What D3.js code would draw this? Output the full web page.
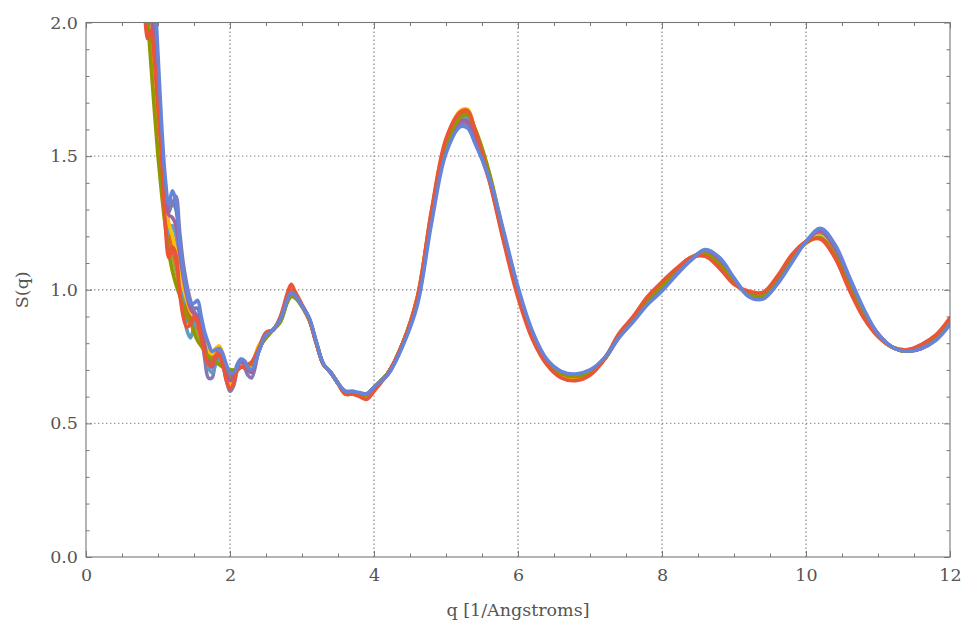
<!DOCTYPE html>
<html><head><meta charset="utf-8">
<script src="https://cdn.jsdelivr.net/npm/d3@7"></script>
<style>body{margin:0;background:#fff}</style>
</head><body><svg id="c" width="964" height="626"></svg>
<script>
const q = [0.80,0.85,0.90,0.95,1.00,1.05,1.10,1.15,1.20,1.25,1.30,1.35,1.40,1.45,1.50,1.55,1.60,1.65,1.70,1.75,1.80,1.85,1.90,1.95,2.00,2.05,2.10,2.15,2.20,2.25,2.30,
 2.40,2.50,2.60,2.70,2.80,2.85,2.90,3.00,3.10,3.20,3.30,3.40,3.50,3.60,3.70,3.80,3.90,4.00,4.20,4.40,4.60,4.80,5.00,5.20,5.30,5.40,5.60,5.80,6.00,
 6.20,6.40,6.60,6.80,7.00,7.20,7.40,7.60,7.80,8.00,8.20,8.40,8.60,8.80,9.00,9.20,9.40,9.60,9.80,10.00,10.20,10.40,10.60,10.80,11.00,11.20,11.40,11.60,11.80,12.00];

const s1 = [2.48,2.28,2.10,1.92,1.72,1.52,1.36,1.29,1.33,1.30,1.16,1.04,0.96,0.92,0.93,0.93,0.87,0.80,0.75,0.74,0.76,0.77,0.745,0.70,0.67,0.68,0.72,0.74,0.72,0.70,0.70,
 0.77,0.83,0.85,0.89,0.96,0.99,0.98,0.94,0.89,0.80,0.72,0.69,0.65,0.62,0.615,0.61,0.61,0.635,0.69,0.80,0.955,1.27,1.53,1.63,1.635,1.57,1.42,1.21,1.00,0.835,0.735,0.69,0.68,0.695,0.74,0.82,0.885,0.955,1.005,1.06,1.115,1.145,1.11,1.035,0.98,0.97,1.03,1.11,1.18,1.22,1.16,1.04,0.92,0.835,0.785,0.77,0.78,0.815,0.875];
const s2 = [2.40,2.15,1.98,1.80,1.62,1.45,1.31,1.22,1.18,1.12,1.04,0.98,0.93,0.90,0.88,0.86,0.83,0.79,0.76,0.76,0.78,0.78,0.75,0.71,0.69,0.69,0.71,0.72,0.72,0.71,0.72,
 0.79,0.83,0.85,0.89,0.97,0.99,0.975,0.935,0.885,0.80,0.72,0.69,0.65,0.61,0.615,0.61,0.60,0.63,0.69,0.80,0.97,1.29,1.555,1.665,1.67,1.60,1.42,1.19,0.985,0.825,0.725,0.68,0.67,0.685,0.74,0.83,0.895,0.965,1.015,1.075,1.12,1.135,1.09,1.025,0.985,0.98,1.045,1.125,1.18,1.20,1.13,1.01,0.905,0.83,0.785,0.77,0.79,0.825,0.89];
const s3 = [2.38,2.12,1.93,1.75,1.58,1.42,1.29,1.20,1.13,1.07,1.01,0.96,0.92,0.89,0.86,0.84,0.81,0.78,0.76,0.75,0.74,0.73,0.72,0.71,0.70,0.70,0.70,0.71,0.715,0.72,0.72,
 0.78,0.82,0.85,0.88,0.96,0.98,0.975,0.94,0.89,0.80,0.72,0.69,0.65,0.615,0.61,0.605,0.605,0.635,0.69,0.80,0.96,1.28,1.54,1.65,1.655,1.60,1.43,1.20,0.99,0.83,0.73,0.685,0.675,0.69,0.74,0.83,0.89,0.965,1.015,1.075,1.12,1.14,1.10,1.03,0.985,0.98,1.04,1.12,1.175,1.20,1.135,1.015,0.905,0.83,0.785,0.77,0.785,0.82,0.885];
const s4 = [2.36,2.10,1.94,1.78,1.60,1.44,1.30,1.20,1.15,1.10,1.03,0.96,0.90,0.87,0.87,0.86,0.82,0.77,0.74,0.74,0.76,0.76,0.73,0.69,0.67,0.68,0.70,0.715,0.72,0.72,0.72,
 0.78,0.83,0.85,0.89,0.975,1.00,0.985,0.94,0.89,0.80,0.72,0.69,0.65,0.61,0.61,0.605,0.60,0.63,0.69,0.80,0.965,1.29,1.55,1.66,1.665,1.595,1.415,1.19,0.98,0.825,0.725,0.675,0.665,0.685,0.74,0.83,0.895,0.965,1.02,1.075,1.12,1.13,1.09,1.025,0.99,0.985,1.045,1.125,1.18,1.195,1.125,1.005,0.90,0.825,0.785,0.775,0.79,0.825,0.89];
const s5 = [2.50,2.30,2.10,1.95,1.75,1.55,1.40,1.30,1.32,1.35,1.22,1.10,1.02,0.96,0.92,0.90,0.84,0.74,0.67,0.67,0.73,0.75,0.72,0.66,0.62,0.64,0.70,0.73,0.71,0.68,0.67,
 0.77,0.83,0.85,0.89,0.965,0.99,0.98,0.94,0.89,0.80,0.72,0.69,0.65,0.62,0.62,0.61,0.61,0.635,0.685,0.795,0.95,1.27,1.52,1.62,1.62,1.56,1.41,1.21,1.00,0.835,0.735,0.69,0.68,0.695,0.745,0.825,0.885,0.95,1.00,1.06,1.11,1.145,1.115,1.04,0.98,0.97,1.03,1.11,1.18,1.22,1.16,1.04,0.92,0.835,0.785,0.77,0.78,0.815,0.88];
const s6 = [2.42,2.18,2.00,1.82,1.64,1.47,1.33,1.24,1.19,1.13,1.05,0.99,0.94,0.90,0.88,0.87,0.84,0.79,0.75,0.73,0.74,0.745,0.73,0.70,0.68,0.68,0.70,0.71,0.71,0.71,0.71,
 0.78,0.83,0.85,0.89,0.97,0.99,0.98,0.94,0.89,0.80,0.72,0.69,0.65,0.615,0.615,0.61,0.60,0.63,0.69,0.80,0.965,1.29,1.55,1.66,1.66,1.595,1.42,1.195,0.985,0.83,0.73,0.68,0.67,0.69,0.74,0.83,0.89,0.96,1.01,1.07,1.12,1.135,1.095,1.03,0.985,0.98,1.045,1.12,1.18,1.205,1.135,1.015,0.905,0.83,0.785,0.77,0.79,0.825,0.89];
const s7 = [2.45,2.22,2.02,1.85,1.66,1.45,1.28,1.21,1.24,1.20,1.08,0.95,0.85,0.82,0.86,0.89,0.84,0.77,0.71,0.69,0.72,0.75,0.72,0.68,0.66,0.67,0.71,0.73,0.72,0.70,0.70,
 0.78,0.84,0.85,0.89,0.96,0.985,0.975,0.94,0.89,0.80,0.72,0.69,0.65,0.615,0.615,0.61,0.61,0.635,0.69,0.80,0.955,1.275,1.535,1.64,1.64,1.575,1.42,1.21,1.00,0.835,0.73,0.685,0.68,0.695,0.74,0.825,0.89,0.96,1.01,1.065,1.115,1.14,1.105,1.035,0.98,0.975,1.035,1.115,1.18,1.215,1.15,1.03,0.915,0.835,0.785,0.77,0.785,0.82,0.88];
const s8 = [2.44,2.20,2.02,1.84,1.66,1.49,1.34,1.25,1.20,1.14,1.07,1.01,0.96,0.92,0.90,0.89,0.86,0.81,0.77,0.76,0.78,0.79,0.76,0.70,0.65,0.66,0.70,0.72,0.72,0.71,0.71,
 0.79,0.83,0.85,0.89,0.97,0.99,0.98,0.94,0.89,0.80,0.72,0.69,0.65,0.61,0.61,0.61,0.60,0.63,0.69,0.80,0.97,1.295,1.56,1.67,1.675,1.60,1.42,1.19,0.985,0.83,0.73,0.68,0.67,0.685,0.74,0.83,0.895,0.965,1.015,1.075,1.12,1.135,1.09,1.025,0.985,0.98,1.045,1.125,1.18,1.20,1.13,1.01,0.905,0.83,0.785,0.775,0.79,0.825,0.89];
const s9 = [2.46,2.25,2.06,1.88,1.70,1.52,1.37,1.28,1.27,1.24,1.14,1.05,0.98,0.93,0.91,0.90,0.86,0.79,0.73,0.71,0.74,0.76,0.735,0.69,0.66,0.67,0.71,0.73,0.72,0.70,0.69,
 0.77,0.83,0.85,0.89,0.965,0.99,0.98,0.94,0.89,0.80,0.72,0.69,0.65,0.62,0.615,0.61,0.61,0.635,0.69,0.80,0.955,1.27,1.53,1.63,1.63,1.57,1.42,1.21,1.00,0.835,0.735,0.69,0.68,0.695,0.74,0.825,0.885,0.955,1.005,1.06,1.115,1.145,1.11,1.04,0.98,0.97,1.03,1.11,1.18,1.22,1.155,1.035,0.92,0.835,0.785,0.77,0.78,0.815,0.88];
const s10 = [2.35,2.05,1.85,1.67,1.50,1.36,1.24,1.14,1.07,1.02,0.98,0.94,0.90,0.88,0.84,0.81,0.79,0.77,0.75,0.74,0.73,0.72,0.71,0.70,0.70,0.70,0.70,0.71,0.71,0.72,0.72,
 0.78,0.82,0.85,0.88,0.955,0.975,0.97,0.94,0.89,0.80,0.72,0.69,0.65,0.615,0.61,0.61,0.605,0.635,0.69,0.80,0.96,1.28,1.535,1.645,1.655,1.605,1.44,1.21,0.99,0.83,0.73,0.685,0.675,0.69,0.74,0.83,0.89,0.965,1.015,1.075,1.12,1.135,1.095,1.03,0.985,0.98,1.045,1.12,1.175,1.195,1.13,1.01,0.905,0.83,0.785,0.77,0.785,0.82,0.885];
const s11 = [2.25,1.94,1.97,1.86,1.68,1.50,1.25,1.12,1.16,1.13,0.99,0.90,0.86,0.87,0.90,0.88,0.82,0.76,0.72,0.72,0.75,0.755,0.72,0.66,0.63,0.65,0.70,0.71,0.71,0.72,0.73,
 0.78,0.84,0.85,0.90,0.99,1.02,0.995,0.945,0.89,0.80,0.72,0.69,0.65,0.61,0.61,0.60,0.59,0.62,0.69,0.80,0.97,1.30,1.565,1.665,1.67,1.60,1.41,1.18,0.97,0.815,0.72,0.67,0.66,0.68,0.74,0.835,0.90,0.975,1.03,1.08,1.12,1.125,1.08,1.02,0.995,0.99,1.05,1.13,1.18,1.19,1.12,1.00,0.895,0.825,0.785,0.775,0.795,0.83,0.895];
const s12 = [2.60,2.40,2.25,2.12,1.88,1.62,1.42,1.32,1.37,1.33,1.18,1.07,1.00,0.95,0.95,0.96,0.90,0.84,0.80,0.77,0.775,0.78,0.76,0.72,0.69,0.69,0.71,0.74,0.735,0.71,0.70,
 0.77,0.83,0.85,0.89,0.965,0.99,0.98,0.94,0.895,0.805,0.72,0.69,0.65,0.62,0.62,0.615,0.61,0.635,0.685,0.79,0.94,1.25,1.51,1.61,1.605,1.55,1.42,1.22,1.01,0.845,0.74,0.695,0.685,0.70,0.745,0.82,0.88,0.945,0.995,1.055,1.11,1.15,1.12,1.045,0.975,0.965,1.02,1.10,1.18,1.23,1.17,1.05,0.93,0.835,0.785,0.77,0.78,0.81,0.87];

const seriesList = [s1,s2,s3,s4,s5,s6,s7,s8,s9,s10,s11,s12];
const colors = ["#5E81B5","#E19C24","#8FB032","#EB6235","#8778B3","#C56E1A","#5D9EC7","#FFBF00","#A5609D","#929600","#E95536","#6685D9"];
const xTickValues = [0,2,4,6,8,10,12];
const yTickValues = [0,0.5,1.0,1.5,2.0];
const yTickLabels = ["0.0","0.5","1.0","1.5","2.0"];
const xLabel = "q [1/Angstroms]";
const yLabel = "S(q)";

const svg = d3.select("#c");
const X0 = 86, X1 = 950, Y0 = 557, Y1 = 22.5;
const x = d3.scaleLinear().domain([0,12]).range([X0,X1]);
const y = d3.scaleLinear().domain([0,2]).range([Y0,Y1]);
const font = "'DejaVu Serif', serif";
const frameCol = "#777";
const textCol = "#555";

// grid
const grid = svg.append("g").attr("stroke","#9a9a9a").attr("stroke-width",1.4).attr("stroke-dasharray","1.4,2.6").attr("fill","none");
xTickValues.filter(v => v>0 && v<12).forEach(v => grid.append("line").attr("x1",x(v)).attr("x2",x(v)).attr("y1",Y0).attr("y2",Y1));
yTickValues.filter(v => v>0 && v<2).forEach(v => grid.append("line").attr("x1",X0).attr("x2",X1).attr("y1",y(v)).attr("y2",y(v)));

// curves
svg.append("clipPath").attr("id","clip").append("rect").attr("x",X0).attr("y",Y1).attr("width",X1-X0).attr("height",Y0-Y1);
const line = d3.line().x((d,i)=>x(q[i])).y(d=>y(d)).curve(d3.curveCatmullRom.alpha(0.5));
const cg = svg.append("g").attr("clip-path","url(#clip)");
seriesList.forEach((s,i)=>{
  cg.append("path").attr("d",line(s)).attr("fill","none").attr("stroke",colors[i])
    .attr("stroke-width",3.6).attr("stroke-linejoin","round").attr("stroke-linecap","round");
});

// axes
function styleAxis(g){
  g.select(".domain").remove();
  g.selectAll(".tick line").attr("stroke",frameCol);
  g.selectAll("text").attr("fill",textCol).attr("font-family",font).attr("font-size",17.5);
}
const minorX = d3.range(0,12.01,0.5).filter(v => Math.abs(v-Math.round(v/2)*2)>1e-6);
const minorY = d3.range(0,2.001,0.1).filter(v => Math.abs(v*2-Math.round(v*2))>1e-6);

svg.append("g").attr("transform",`translate(0,${Y0})`)
  .call(d3.axisBottom(x).tickValues(xTickValues).tickSize(-6).tickPadding(12).tickFormat(d3.format("d"))).call(styleAxis);
svg.append("g").attr("transform",`translate(0,${Y0})`)
  .call(d3.axisBottom(x).tickValues(minorX).tickSize(-3.5).tickFormat("")).call(styleAxis);
svg.append("g").attr("transform",`translate(0,${Y1})`)
  .call(d3.axisTop(x).tickValues(xTickValues).tickSize(-6).tickFormat("")).call(styleAxis);
svg.append("g").attr("transform",`translate(0,${Y1})`)
  .call(d3.axisTop(x).tickValues(minorX).tickSize(-3.5).tickFormat("")).call(styleAxis);
svg.append("g").attr("transform",`translate(${X0},0)`)
  .call(d3.axisLeft(y).tickValues(yTickValues).tickSize(-6).tickPadding(8).tickFormat((d,i)=>yTickLabels[i])).call(styleAxis);
svg.append("g").attr("transform",`translate(${X0},0)`)
  .call(d3.axisLeft(y).tickValues(minorY).tickSize(-3.5).tickFormat("")).call(styleAxis);
svg.append("g").attr("transform",`translate(${X1},0)`)
  .call(d3.axisRight(y).tickValues(yTickValues).tickSize(-6).tickFormat("")).call(styleAxis);
svg.append("g").attr("transform",`translate(${X1},0)`)
  .call(d3.axisRight(y).tickValues(minorY).tickSize(-3.5).tickFormat("")).call(styleAxis);

// frame
svg.append("rect").attr("x",X0).attr("y",Y1).attr("width",X1-X0).attr("height",Y0-Y1)
  .attr("fill","none").attr("stroke",frameCol).attr("stroke-width",1.1);

// titles
svg.append("text").attr("x",(X0+X1)/2).attr("y",616).attr("text-anchor","middle")
  .attr("fill",textCol).attr("font-family",font).attr("font-size",17.5).text(xLabel);
svg.append("text").attr("transform",`translate(28,${(Y0+Y1)/2}) rotate(-90)`).attr("text-anchor","middle")
  .attr("fill",textCol).attr("font-family",font).attr("font-size",17.5).text(yLabel);
</script>
</body></html>
